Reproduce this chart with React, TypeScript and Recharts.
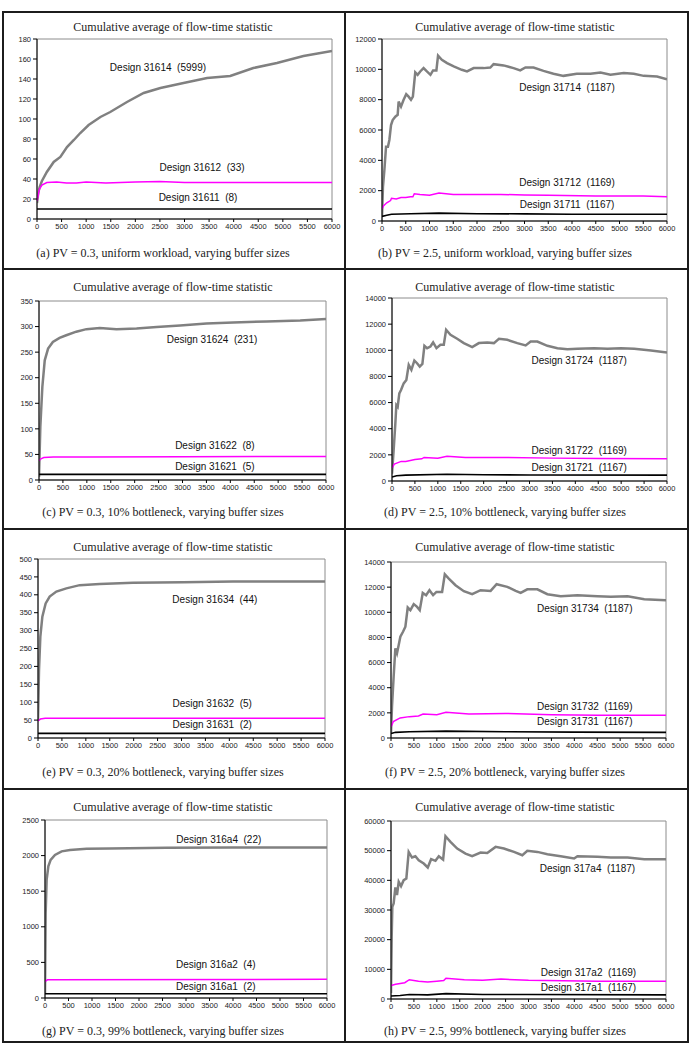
import React from "react";
import { LineChart, Line, XAxis, YAxis, ReferenceArea, ReferenceDot } from "recharts";

type Pt = [number, number];

const TITLE = "Cumulative average of flow-time statistic";
const xTicks = [0, 500, 1000, 1500, 2000, 2500, 3000, 3500, 4000, 4500, 5000, 5500, 6000];

// (a) PV = 0.3, uniform workload
const aTicks = [0, 20, 40, 60, 80, 100, 120, 140, 160, 180];
const a4: Pt[] = [[0, 16], [25, 26], [54, 32], [100, 38], [200, 47], [340, 57], [475, 62], [610, 72], [750, 79], [880, 86], [1050, 94], [1290, 102], [1490, 107], [1830, 117], [2170, 126], [2510, 131], [2980, 136], [3460, 141], [3930, 143], [4400, 151], [4880, 156], [5420, 163], [6000, 168]];
const a2: Pt[] = [[0, 18], [50, 30], [100, 34], [200, 36.5], [400, 37], [600, 36], [800, 36], [1000, 37], [1400, 36], [2000, 37], [2500, 37.5], [3000, 36.5], [4000, 36.5], [5000, 36.5], [6000, 36.5]];
const a1: Pt[] = [[0, 10], [6000, 10]];

// (b) PV = 2.5, uniform workload
const bTicks = [0, 2000, 4000, 6000, 8000, 10000, 12000];
const b4: Pt[] = [[0, 260], [20, 2250], [50, 3350], [85, 4900], [125, 4900], [155, 5340], [190, 6330], [225, 6660], [280, 6880], [330, 7000], [350, 7880], [400, 7540], [455, 7990], [510, 8360], [560, 8200], [610, 7990], [650, 8200], [700, 9800], [750, 9640], [805, 9860], [875, 10080], [945, 9860], [1020, 9640], [1075, 9930], [1145, 9930], [1180, 10900], [1260, 10630], [1370, 10410], [1510, 10190], [1680, 9970], [1790, 9860], [1930, 10080], [2140, 10080], [2280, 10120], [2350, 10340], [2560, 10260], [2770, 10080], [2910, 9930], [3020, 10120], [3190, 10120], [3400, 9900], [3610, 9710], [3820, 9570], [4100, 9710], [4390, 9710], [4600, 9790], [4810, 9640], [5090, 9750], [5300, 9710], [5510, 9570], [5790, 9530], [6000, 9350]];
const b2: Pt[] = [[0, 800], [30, 1000], [100, 1200], [180, 1350], [200, 1500], [300, 1450], [400, 1550], [500, 1550], [600, 1600], [650, 1600], [680, 1800], [800, 1750], [1000, 1700], [1200, 1850], [1500, 1750], [2000, 1750], [2500, 1750], [3000, 1720], [3500, 1700], [4500, 1650], [5500, 1650], [6000, 1600]];
const b1: Pt[] = [[0, 300], [100, 380], [200, 450], [600, 480], [1200, 520], [2000, 480], [3000, 470], [4000, 450], [6000, 450]];

// (c) PV = 0.3, 10% bottleneck
const cTicks = [0, 50, 100, 150, 200, 250, 300, 350];
const c4: Pt[] = [[0, 6], [28, 104], [70, 182], [120, 234], [190, 257], [290, 270], [430, 278], [570, 283], [780, 290], [990, 295], [1270, 297], [1620, 295], [2040, 296], [2460, 299], [2950, 302], [3500, 306], [4060, 308], [4760, 310], [5460, 312], [6000, 315]];
const c2: Pt[] = [[0, 38], [50, 42], [100, 44], [300, 45], [1000, 45], [3000, 45.5], [6000, 46]];
const c1: Pt[] = [[0, 11], [6000, 11]];

// (d) PV = 2.5, 10% bottleneck
const dTicks = [0, 2000, 4000, 6000, 8000, 10000, 12000, 14000];
const d4: Pt[] = [[0, 563], [36, 2350], [73, 4400], [95, 5810], [124, 5680], [160, 6700], [197, 6960], [255, 7470], [313, 7730], [365, 8880], [423, 8500], [488, 9210], [547, 9010], [605, 8750], [663, 8960], [707, 10340], [765, 10160], [838, 10290], [897, 10600], [970, 10160], [1057, 10420], [1130, 10420], [1181, 11570], [1276, 11190], [1422, 10880], [1567, 10550], [1750, 10240], [1896, 10550], [2078, 10600], [2224, 10550], [2333, 10880], [2515, 10800], [2734, 10550], [2916, 10370], [3025, 10670], [3171, 10670], [3390, 10340], [3609, 10160], [3827, 10080], [4046, 10110], [4411, 10160], [4702, 10110], [4994, 10160], [5285, 10110], [5650, 9980], [6000, 9830]];
const d2: Pt[] = [[0, 1000], [50, 1300], [200, 1500], [300, 1500], [500, 1650], [650, 1700], [700, 1800], [1000, 1750], [1200, 1900], [1600, 1800], [2500, 1800], [3500, 1750], [4500, 1720], [6000, 1700]];
const d1: Pt[] = [[0, 300], [100, 400], [300, 450], [1200, 520], [2000, 480], [3000, 460], [6000, 450]];

// (e) PV = 0.3, 20% bottleneck
const eTicks = [0, 50, 100, 150, 200, 250, 300, 350, 400, 450, 500];
const e4: Pt[] = [[0, 51], [21, 190], [49, 283], [91, 339], [160, 376], [244, 395], [384, 409], [593, 418], [872, 427], [1291, 430], [1988, 434], [3035, 435], [4081, 437], [6000, 437]];
const e2: Pt[] = [[0, 48], [50, 53], [150, 55], [6000, 55]];
const e1: Pt[] = [[0, 13], [6000, 13]];

// (f) PV = 2.5, 20% bottleneck
const fTicks = [0, 2000, 4000, 6000, 8000, 10000, 12000, 14000];
const f4: Pt[] = [[0, 396], [22, 2510], [58, 4890], [95, 7130], [131, 6740], [168, 7400], [204, 8060], [262, 8450], [314, 8850], [365, 10380], [423, 10170], [496, 10650], [569, 10430], [627, 10170], [693, 11540], [766, 11360], [839, 11760], [919, 11360], [991, 11620], [1115, 11620], [1174, 13020], [1261, 12680], [1407, 12150], [1589, 11680], [1771, 11440], [1954, 11760], [2173, 11700], [2304, 12230], [2537, 12020], [2720, 11700], [2829, 11540], [2974, 11830], [3193, 11830], [3412, 11440], [3703, 11280], [4068, 11360], [4505, 11280], [4797, 11230], [5162, 11280], [5526, 11040], [6000, 10960]];
const f2: Pt[] = [[0, 900], [50, 1300], [200, 1600], [400, 1700], [600, 1750], [700, 1900], [1000, 1850], [1200, 2050], [1700, 1900], [2500, 1950], [3500, 1850], [4500, 1800], [6000, 1800]];
const f1: Pt[] = [[0, 350], [100, 450], [400, 500], [1200, 550], [2500, 500], [4000, 470], [6000, 450]];

// (g) PV = 0.3, 99% bottleneck
const gTicks = [0, 500, 1000, 1500, 2000, 2500];
const g4: Pt[] = [[0, 70], [14, 1190], [35, 1660], [71, 1850], [120, 1940], [212, 2010], [354, 2060], [531, 2080], [885, 2095], [1381, 2100], [2585, 2110], [4002, 2115], [6000, 2115]];
const g2: Pt[] = [[0, 230], [50, 255], [6000, 262]];
const g1: Pt[] = [[0, 60], [6000, 60]];

// (h) PV = 2.5, 99% bottleneck
const hTicks = [0, 10000, 20000, 30000, 40000, 50000, 60000];
const h4: Pt[] = [[0, 2015], [15, 21040], [29, 31120], [58, 32240], [95, 37610], [131, 35040], [168, 39510], [219, 38060], [277, 40070], [335, 40630], [386, 49590], [459, 47690], [532, 48130], [605, 46790], [714, 45670], [802, 44330], [875, 47130], [970, 46570], [1043, 48130], [1137, 47010], [1188, 54850], [1298, 52950], [1444, 50710], [1626, 49030], [1771, 48130], [1954, 49370], [2100, 49250], [2282, 51270], [2464, 50710], [2683, 49590], [2865, 48470], [2974, 49930], [3193, 49590], [3412, 48810], [3703, 48130], [3995, 47350], [4068, 48130], [4505, 47910], [4797, 47690], [5162, 47690], [5526, 47130], [6000, 47130]];
const h2: Pt[] = [[0, 4500], [100, 5000], [300, 5500], [400, 6500], [600, 6000], [800, 5700], [1000, 6000], [1150, 6200], [1200, 7000], [1600, 6500], [2000, 6300], [2400, 6700], [3000, 6300], [4500, 6000], [6000, 6000]];
const h1: Pt[] = [[0, 1000], [200, 1200], [400, 1500], [800, 1400], [1200, 1800], [2000, 1500], [3000, 1500], [6000, 1400]];

type Note = [number, number, string];

interface Panel {
  caption: string;
  yMax: number;
  yTicks: number[];
  series: [Pt[], Pt[], Pt[]];
  notes: Note[];
  cellX: number;
  titleY: number;
  captionY: number;
  plot: { l: number; t: number; r: number; b: number };
}

const panels: Panel[] = [
  {
    caption: "(a) PV = 0.3, uniform workload, varying buffer sizes",
    yMax: 180, yTicks: aTicks, series: [a4, a2, a1],
    notes: [[2460, 152, "Design 31614  (5999)"], [3356, 52, "Design 31612  (33)"], [3275, 22, "Design 31611  (8)"]],
    cellX: 2, titleY: 27, captionY: 253, plot: { l: 37, t: 39, r: 332, b: 219 },
  },
  {
    caption: "(b) PV = 2.5, uniform workload, varying buffer sizes",
    yMax: 12000, yTicks: bTicks, series: [b4, b2, b1],
    notes: [[3895, 8770, "Design 31714  (1187)"], [3895, 2570, "Design 31712  (1169)"], [3895, 1120, "Design 31711  (1167)"]],
    cellX: 344, titleY: 27, captionY: 253, plot: { l: 382, t: 39, r: 667, b: 221 },
  },
  {
    caption: "(c) PV = 0.3, 10% bottleneck, varying buffer sizes",
    yMax: 350, yTicks: cTicks, series: [c4, c2, c1],
    notes: [[3617, 274, "Design 31624  (231)"], [3677, 67, "Design 31622  (8)"], [3677, 26, "Design 31621  (5)"]],
    cellX: 2, titleY: 287, captionY: 512, plot: { l: 39, t: 301, r: 326, b: 480 },
  },
  {
    caption: "(d) PV = 2.5, 10% bottleneck, varying buffer sizes",
    yMax: 14000, yTicks: dTicks, series: [d4, d2, d1],
    notes: [[4083, 9215, "Design 31724  (1187)"], [4083, 2355, "Design 31722  (1169)"], [4083, 998, "Design 31721  (1167)"]],
    cellX: 344, titleY: 287, captionY: 512, plot: { l: 392, t: 298, r: 667, b: 481 },
  },
  {
    caption: "(e) PV = 0.3, 20% bottleneck, varying buffer sizes",
    yMax: 500, yTicks: eTicks, series: [e4, e2, e1],
    notes: [[3698, 386, "Design 31634  (44)"], [3642, 95, "Design 31632  (5)"], [3642, 37, "Design 31631  (2)"]],
    cellX: 2, titleY: 547, captionY: 772, plot: { l: 38, t: 559, r: 325, b: 738 },
  },
  {
    caption: "(f) PV = 2.5, 20% bottleneck, varying buffer sizes",
    yMax: 14000, yTicks: fTicks, series: [f4, f2, f1],
    notes: [[4228, 10275, "Design 31734  (1187)"], [4228, 2510, "Design 31732  (1169)"], [4228, 1320, "Design 31731  (1167)"]],
    cellX: 344, titleY: 547, captionY: 772, plot: { l: 391, t: 562, r: 666, b: 738 },
  },
  {
    caption: "(g) PV = 0.3, 99% bottleneck, varying buffer sizes",
    yMax: 2500, yTicks: gTicks, series: [g4, g2, g1],
    notes: [[3698, 2220, "Design 316a4  (22)"], [3634, 467, "Design 316a2  (4)"], [3634, 164, "Design 316a1  (2)"]],
    cellX: 2, titleY: 807, captionY: 1031, plot: { l: 45, t: 820, r: 327, b: 998 },
  },
  {
    caption: "(h) PV = 2.5, 99% bottleneck, varying buffer sizes",
    yMax: 60000, yTicks: hTicks, series: [h4, h2, h1],
    notes: [[4287, 43990, "Design 317a4  (1187)"], [4309, 9070, "Design 317a2  (1169)"], [4309, 4030, "Design 317a1  (1167)"]],
    cellX: 344, titleY: 807, captionY: 1031, plot: { l: 391, t: 821, r: 666, b: 999 },
  },
];

const lineStyles = [
  { stroke: "#808080", width: 2.5 },
  { stroke: "#ff00ff", width: 1.5 },
  { stroke: "#000000", width: 1.6 },
];

const toPoints = (pts: Pt[]) => pts.map(([x, y]) => ({ x, y }));

const tickStyle = { fontSize: 7.5, fill: "#222", fontFamily: "'Liberation Sans', Arial, sans-serif" };
const serif = "'Liberation Serif', 'Times New Roman', serif";

const noteLabel = (text: string) => (props: any) => {
  const vb = props.viewBox || {};
  const cx = (vb.x ?? 0) + (vb.width ?? 0) / 2;
  const cy = (vb.y ?? 0) + (vb.height ?? 0) / 2;
  return (
    <text
      x={cx}
      y={cy}
      textAnchor="middle"
      dominantBaseline="central"
      fontSize={10}
      fill="#111"
      fontFamily="'Liberation Sans', Arial, sans-serif"
      style={{ whiteSpace: "pre" }}
    >
      {text}
    </text>
  );
};

const Y_W = 40;
const TOP = 6;
const RIGHT = 12;
const BOTTOM = 22;

function FlowChart({ p }: { p: Panel }) {
  const w = p.plot.r - p.plot.l;
  const h = p.plot.b - p.plot.t;
  return (
    <div style={{ position: "absolute", left: p.plot.l - Y_W, top: p.plot.t - TOP }}>
      <LineChart width={w + Y_W + RIGHT} height={h + TOP + BOTTOM} margin={{ top: TOP, right: RIGHT, left: 0, bottom: 0 }}>
        <ReferenceArea x1={0} x2={6000} y1={0} y2={p.yMax} fill="none" stroke="#8c8c8c" strokeWidth={1} ifOverflow="visible" />
        <XAxis
          type="number"
          dataKey="x"
          domain={[0, 6000]}
          ticks={xTicks}
          interval={0}
          height={BOTTOM}
          tickSize={3}
          tickMargin={2}
          tick={tickStyle}
          axisLine={{ stroke: "#000" }}
          tickLine={{ stroke: "#000" }}
          allowDataOverflow
        />
        <YAxis
          type="number"
          dataKey="y"
          domain={[0, p.yMax]}
          ticks={p.yTicks}
          interval={0}
          width={Y_W}
          tickSize={4}
          tickMargin={2}
          tick={tickStyle}
          axisLine={{ stroke: "#000" }}
          tickLine={{ stroke: "#000" }}
          allowDataOverflow
        />
        {p.series.map((s, i) => (
          <Line
            key={i}
            data={toPoints(s)}
            dataKey="y"
            type="linear"
            dot={false}
            activeDot={false}
            stroke={lineStyles[i].stroke}
            strokeWidth={lineStyles[i].width}
            isAnimationActive={false}
          />
        ))}
        {p.notes.map(([x, y, text], i) => (
          <ReferenceDot key={i} x={x} y={y} r={0} fill="none" stroke="none" label={noteLabel(text)} />
        ))}
      </LineChart>
    </div>
  );
}

const border = "#1c1c1c";

export default function App() {
  return (
    <div style={{ position: "absolute", left: 0, top: 0, width: 689, height: 1044, background: "#fff", overflow: "hidden" }}>
      {/* frame and cell dividers */}
      <div style={{ position: "absolute", left: 2, top: 11, width: 687, height: 1032, border: `2px solid ${border}`, boxSizing: "border-box" }} />
      <div style={{ position: "absolute", left: 344, top: 11, width: 2, height: 1032, background: border }} />
      {[268, 528, 788].map((y) => (
        <div key={y} style={{ position: "absolute", left: 2, top: y, width: 687, height: 2, background: border }} />
      ))}
      {panels.map((p, i) => (
        <React.Fragment key={i}>
          <div
            style={{
              position: "absolute", left: p.cellX, width: 342, top: p.titleY - 8, lineHeight: "16px",
              textAlign: "center", fontFamily: serif, fontSize: 12, color: "#222",
            }}
          >
            {TITLE}
          </div>
          <FlowChart p={p} />
          <div
            style={{
              position: "absolute", left: p.cellX, width: 322, top: p.captionY - 8, lineHeight: "16px",
              textAlign: "center", fontFamily: serif, fontSize: 12, color: "#222", whiteSpace: "pre",
            }}
          >
            {p.caption}
          </div>
        </React.Fragment>
      ))}
    </div>
  );
}
